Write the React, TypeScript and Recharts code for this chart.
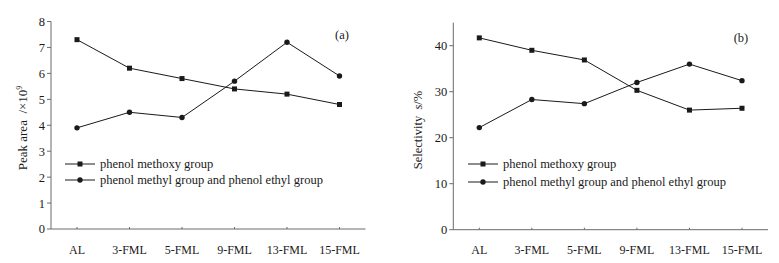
import { LineChart, Line, XAxis, YAxis, Legend } from "recharts";

// sample labels along the x axis
const categories = ["AL", "3-FML", "5-FML", "9-FML", "13-FML", "15-FML"];

// (a) peak area, x10^9
const peakMethoxy = [7.3, 6.2, 5.8, 5.4, 5.2, 4.8];
const peakMethylEthyl = [3.9, 4.5, 4.3, 5.7, 7.2, 5.9];
const peakTicks = [0, 1, 2, 3, 4, 5, 6, 7, 8];

// (b) selectivity, %
const selMethoxy = [41.7, 39.0, 36.9, 30.3, 26.0, 26.4];
const selMethylEthyl = [22.2, 28.3, 27.4, 32.0, 36.0, 32.4];
const selTicks = [0, 10, 20, 30, 40];

const seriesNames = ["phenol methoxy group", "phenol methyl group and phenol ethyl group"];

const INK = "#1a1a1a";
const AXIS = "#6b6b6b";
const FONT = "'Liberation Serif', 'Times New Roman', serif";

const SquareDot = (props: any) => {
  const { cx, cy, index } = props;
  if (cx == null || cy == null) return null;
  return <rect key={`s${index}`} x={cx - 2.5} y={cy - 2.5} width={5} height={5} fill={INK} />;
};

const CircleDot = (props: any) => {
  const { cx, cy, index } = props;
  if (cx == null || cy == null) return null;
  return <circle key={`c${index}`} cx={cx} cy={cy} r={2.7} fill={INK} />;
};

const LegendBox = ({ rowHeight }: { rowHeight: number }) => (
  <div style={{ fontFamily: FONT, fontSize: 12.5, color: INK }}>
    {seriesNames.map((name, i) => (
      <div key={name} style={{ display: "flex", alignItems: "center", height: rowHeight, whiteSpace: "nowrap" }}>
        <svg width={32} height={8} style={{ marginRight: 3 }}>
          <line x1={0} y1={4} x2={30} y2={4} stroke={INK} strokeWidth={1} />
          {i === 0 ? <rect x={12.5} y={1.5} width={5} height={5} fill={INK} /> : <circle cx={15} cy={4} r={2.7} fill={INK} />}
        </svg>
        <span>{name}</span>
      </div>
    ))}
  </div>
);

interface PanelProps {
  left: number;
  a: number[];
  b: number[];
  domain: [number, number];
  ticks: number[];
  margin: { top: number; right: number; left: number; bottom: number };
  tag: string;
  tagPos: { x: number; y: number };
  yLabel: React.ReactNode;
  yLabelPos: { x: number; y: number; size: number };
  legendPos: { x: number; y: number; row: number };
}

function Panel(p: PanelProps) {
  const data = categories.map((name, i) => ({ name, a: p.a[i], b: p.b[i] }));
  return (
    <div style={{ position: "absolute", left: p.left, top: 0, width: 390, height: 263 }}>
      <LineChart width={390} height={263} data={data} margin={p.margin}>
        <XAxis
          dataKey="name"
          interval={0}
          padding={{ left: 26, right: 26 }}
          height={30}
          tickSize={-2}
          tickMargin={18}
          axisLine={{ stroke: AXIS }}
          tickLine={{ stroke: AXIS }}
          tick={{ fontSize: 12, fill: INK, fontFamily: FONT }}
        />
        <XAxis xAxisId="top" orientation="top" dataKey="name" height={0} tick={false} tickLine={false} axisLine={{ stroke: AXIS }} />
        <YAxis
          domain={p.domain}
          ticks={p.ticks}
          width={30}
          tickSize={4}
          tickMargin={2}
          axisLine={{ stroke: AXIS }}
          tickLine={{ stroke: AXIS }}
          tick={{ fontSize: 12.5, fill: INK, fontFamily: FONT }}
        />
        <YAxis yAxisId="right" orientation="right" domain={p.domain} width={0} tick={false} tickLine={false} axisLine={{ stroke: AXIS }} />
        <Line dataKey="a" stroke={INK} strokeWidth={1} dot={SquareDot} isAnimationActive={false} />
        <Line dataKey="b" stroke={INK} strokeWidth={1} dot={CircleDot} isAnimationActive={false} />
        <Legend
          layout="vertical"
          align="center"
          verticalAlign="middle"
          wrapperStyle={{ position: "absolute", left: p.legendPos.x, top: p.legendPos.y, width: 320 }}
          content={() => <LegendBox rowHeight={p.legendPos.row} />}
        />
      </LineChart>
      <div style={{ position: "absolute", left: p.tagPos.x, top: p.tagPos.y, transform: "translate(-50%, -50%)", fontFamily: FONT, fontSize: 12.5, color: INK }}>
        {p.tag}
      </div>
      <div
        style={{
          position: "absolute",
          left: p.yLabelPos.x,
          top: p.yLabelPos.y,
          transform: "translate(-50%, -50%) rotate(-90deg)",
          fontFamily: FONT,
          fontSize: p.yLabelPos.size,
          color: INK,
          whiteSpace: "nowrap",
        }}
      >
        {p.yLabel}
      </div>
    </div>
  );
}

export default function App() {
  return (
    <div style={{ position: "absolute", left: 0, top: 0, width: 779, height: 263, background: "#fff", overflow: "hidden" }}>
      <Panel
        left={0}
        a={peakMethoxy}
        b={peakMethylEthyl}
        domain={[0, 8]}
        ticks={peakTicks}
        margin={{ top: 21.5, right: 24.5, left: 21, bottom: 4 }}
        tag="(a)"
        tagPos={{ x: 342, y: 35 }}
        yLabel={
          <span>
            Peak area&nbsp;&nbsp;/×10<sup style={{ fontSize: "0.6em" }}>9</sup>
          </span>
        }
        yLabelPos={{ x: 23, y: 128, size: 13 }}
        legendPos={{ x: 65, y: 156, row: 16 }}
      />
      <Panel
        left={389}
        a={selMethoxy}
        b={selMethylEthyl}
        domain={[0, 45]}
        ticks={selTicks}
        margin={{ top: 22.7, right: 11, left: 34.3, bottom: 3.3 }}
        tag="(b)"
        tagPos={{ x: 352, y: 38 }}
        yLabel={
          <span>
            Selectivity&nbsp;&nbsp;<i>s</i>/%
          </span>
        }
        yLabelPos={{ x: 29, y: 130, size: 12.5 }}
        legendPos={{ x: 79, y: 155, row: 18 }}
      />
    </div>
  );
}
